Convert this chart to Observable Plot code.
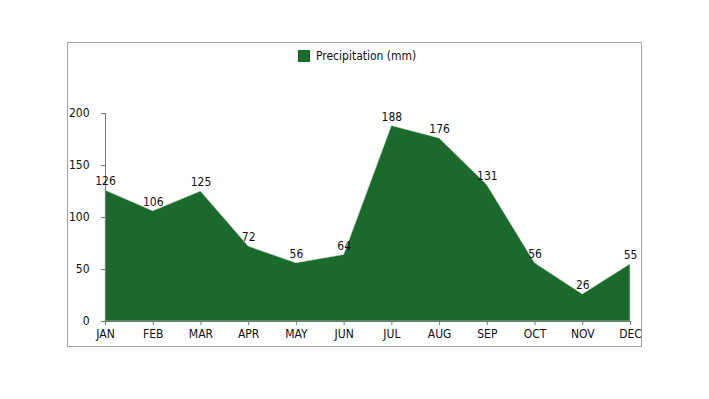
<!DOCTYPE html>
<html>
<head>
<meta charset="utf-8">
<script src="https://cdn.jsdelivr.net/npm/d3@7"></script>
<script src="https://cdn.jsdelivr.net/npm/@observablehq/plot@0.6"></script>
<style>
  html, body { margin: 0; padding: 0; background: #fff; }
  #wrap { position: relative; width: 709px; height: 399px; font-family: "DejaVu Sans Condensed", "DejaVu Sans", sans-serif; }
  #frame { position: absolute; left: 67px; top: 42px; width: 573px; height: 303px; border: 1px solid #a3a3a3; box-sizing: content-box; }
  #legend { position: absolute; left: 298px; top: 49px; font-size: 12px; color: #111; display: flex; align-items: center; white-space: nowrap; }
  #legend .sw { width: 12px; height: 12px; background: #1a6a2e; margin-right: 6px; }
  #chart { position: absolute; left: 0; top: 0; }
</style>
</head>
<body>
<div id="wrap">
  <div id="frame"></div>
  <div id="legend"><span class="sw"></span><span>Precipitation (mm)</span></div>
  <div id="chart"></div>
</div>
<script>
const months = ["JAN","FEB","MAR","APR","MAY","JUN","JUL","AUG","SEP","OCT","NOV","DEC"];
const precipitation = [126,106,125,72,56,64,188,176,131,56,26,55];
const yTicks = [0,50,100,150,200];

const data = months.map((m, i) => ({month: m, value: precipitation[i]}));

const chart = Plot.plot({
  width: 709,
  height: 399,
  marginLeft: 105,
  marginRight: 79,
  marginTop: 113,
  marginBottom: 78,
  style: {fontFamily: '"DejaVu Sans Condensed", "DejaVu Sans", sans-serif', fontSize: "12px", color: "#111", background: "transparent", overflow: "visible"},
  x: {type: "point", domain: months, padding: 0, round: false, label: null},
  y: {domain: [0, 200], label: null},
  marks: [
    Plot.areaY(data, {x: "month", y: "value", fill: "#1a6a2e", stroke: "#cfe3cf", strokeWidth: 1, strokeOpacity: 0.6}),
    Plot.ruleX([months[0]], {y1: 0, y2: 200, stroke: "#777"}),
    Plot.ruleY([0], {stroke: "#777"}),
    Plot.axisY({ticks: yTicks, tickSize: 4, tickPadding: 12, stroke: "#777", fill: "#111", fontSize: 12, label: null}),
    Plot.axisX({tickSize: 4, tickPadding: 4, stroke: "#777", fill: "#111", fontSize: 12, label: null}),
    Plot.text(data, {x: "month", y: "value", text: d => String(d.value), dy: -9, fill: "#111", fontSize: 12})
  ]
});
document.getElementById("chart").appendChild(chart);
</script>
</body>
</html>
